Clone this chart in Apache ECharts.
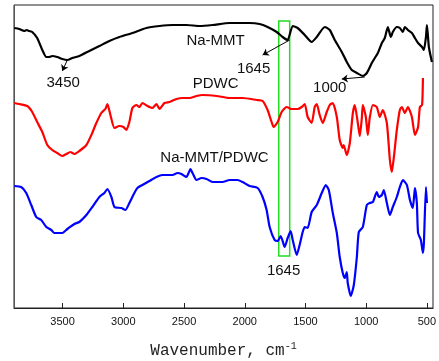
<!DOCTYPE html>
<html><head><meta charset="utf-8">
<script src="https://cdn.jsdelivr.net/npm/echarts@6/dist/echarts.min.js"></script>
<style>html,body{margin:0;padding:0;background:#fff}#c{width:439px;height:361px}</style>
</head><body><div id="c"></div>
<script>
// wavenumber (cm-1), transmittance (a.u.)
const naMMT = [[3898,280],[3857,279],[3816,277],[3795,278],[3775,277],[3750,276],[3709,270],[3667,258],[3634,251],[3610,251],[3585,252],[3544,251],[3502,249],[3461,248],[3420,250],[3362,252],[3280,257],[3197,262],[3115,267],[3032,271],[2925,275],[2810,280],[2702,282],[2595,283],[2480,283],[2372,282],[2265,283],[2125,285],[1960,285],[1878,284],[1812,281],[1737,276],[1688,271],[1647,268],[1605,282],[1564,280],[1506,273],[1449,266],[1407,271],[1341,281],[1300,278],[1259,268],[1201,256],[1160,246],[1119,238],[1077,235],[1028,232],[995,235],[954,245],[929,250],[904,255],[871,265],[847,270],[830,278],[822,281],[797,271],[781,276],[748,281],[723,280],[698,276],[682,281],[657,278],[624,275],[599,270],[573,265],[540,261],[525,258],[508,271],[500,283],[484,261],[459,246]];
const pdwc = [[3898,205],[3857,204],[3791,202],[3750,196],[3709,186],[3667,176],[3626,163],[3585,158],[3544,155],[3502,152],[3469,154],[3436,156],[3403,154],[3362,157],[3304,163],[3263,173],[3222,185],[3181,195],[3148,199],[3131,204],[3106,193],[3073,180],[3032,182],[2999,181],[2975,178],[2950,186],[2925,200],[2892,203],[2867,201],[2843,205],[2801,202],[2760,200],[2727,204],[2702,199],[2661,205],[2620,206],[2562,209],[2513,210],[2455,210],[2397,212],[2348,213],[2232,212],[2125,210],[2018,210],[1902,208],[1853,207],[1812,198],[1779,186],[1762,181],[1729,186],[1696,196],[1655,201],[1614,199],[1564,199],[1531,201],[1506,204],[1482,191],[1449,185],[1424,201],[1407,204],[1383,193],[1358,185],[1325,196],[1300,203],[1275,205],[1242,191],[1218,168],[1193,160],[1185,163],[1160,153],[1135,165],[1110,195],[1094,203],[1069,185],[1053,172],[1036,190],[1028,203],[1003,191],[987,173],[970,191],[945,203],[913,201],[888,191],[863,198],[830,185],[805,148],[789,136],[772,151],[748,178],[723,198],[706,201],[682,195],[657,201],[624,191],[599,173],[573,181],[558,201],[540,203],[533,230]];
const naMMTpdwc = [[3898,122],[3841,121],[3799,115],[3758,103],[3717,91],[3676,88],[3634,81],[3593,78],[3568,75],[3535,75],[3502,75],[3461,79],[3403,84],[3362,86],[3304,93],[3255,101],[3197,111],[3156,115],[3131,119],[3098,111],[3073,101],[3016,100],[2983,98],[2950,105],[2909,115],[2884,120],[2843,123],[2785,127],[2727,131],[2678,133],[2595,133],[2554,135],[2521,134],[2480,131],[2447,139],[2430,135],[2397,128],[2356,130],[2315,129],[2265,126],[2183,126],[2125,128],[2059,128],[2018,126],[1960,122],[1894,120],[1853,111],[1820,98],[1795,81],[1754,68],[1729,67],[1704,72],[1671,61],[1647,70],[1622,77],[1605,68],[1572,53],[1548,63],[1523,76],[1506,81],[1482,80],[1449,96],[1407,103],[1366,115],[1333,123],[1308,118],[1275,95],[1242,75],[1218,51],[1193,35],[1176,30],[1160,36],[1152,25],[1127,12],[1102,23],[1077,51],[1061,76],[1028,81],[995,103],[970,105],[945,106],[913,116],[896,111],[871,113],[855,118],[830,105],[805,93],[781,101],[748,111],[723,121],[698,128],[665,123],[640,108],[616,100],[599,120],[583,105],[573,75],[550,68],[533,55],[525,65],[508,121],[500,105]];
const xTicks = [500,1000,1500,2000,2500,3000,3500];
const seriesNames = ['Na-MMT','PDWC','Na-MMT/PDWC'];
const peakLabels = [
  {text:'3450', at:[3495,225], from:[3461,248], to:[3502,237]},
  {text:'1645', at:[1927,239], from:[1630,268], to:[1853,253]},
  {text:'1000', at:[1300,220], from:[1012,231], to:[1201,229]}
];
const nameLabels = [[2240,267],[2240,224],[2249,150]];
const bottomLabel = {text:'1645', at:[1680,37]};
const box = [[1720,287],[1630,52]];

const lblFont = {fontFamily:'Liberation Sans, Arial', fontSize:15, color:'#111'};
function textPoint(t, c){ return {coord:c, value:t, symbol:'rect', symbolSize:1, itemStyle:{color:'rgba(0,0,0,0)'}, label:Object.assign({show:true, position:'inside', formatter:t}, lblFont)}; }

const chart = echarts.init(document.getElementById('c'));
chart.setOption({
  animation:false,
  grid:{left:14, right:6, top:5, bottom:53, show:true, borderColor:'#222', borderWidth:1, outerBoundsMode:'none', containLabel:false},
  xAxis:{type:'value', inverse:true, min:450, max:3900,
    axisLine:{show:true, lineStyle:{color:'#222', width:1}},
    axisTick:{show:true, inside:true, length:5, customValues:xTicks, lineStyle:{color:'#222'}},
    axisLabel:{customValues:xTicks, formatter:v=>String(v), color:'#111', fontFamily:'Liberation Sans, Arial', fontSize:11, margin:8},
    splitLine:{show:false},
    name:'{a|Wavenumber, cm}{b|-1}', nameLocation:'middle', nameGap:33,
    nameTextStyle:{rich:{a:{fontFamily:'Liberation Mono', fontSize:16, color:'#222', lineHeight:20}, b:{fontFamily:'Liberation Mono', fontSize:10, color:'#222', verticalAlign:'top', lineHeight:20}}}
  },
  yAxis:{type:'value', min:0, max:303, axisLine:{show:true, lineStyle:{color:'#555'}}, axisTick:{show:false}, axisLabel:{show:false}, splitLine:{show:false}},
  series:[
    {name:seriesNames[0], type:'line', data:naMMT, showSymbol:false, smooth:0.2, lineStyle:{color:'#000', width:2.2}, itemStyle:{color:'#000'},
      markPoint:{data:[textPoint(seriesNames[0], nameLabels[0])].concat(peakLabels.map(p=>textPoint(p.text,p.at)))},
      markLine:{silent:true, symbol:['none','arrow'], symbolSize:6, label:{show:false}, lineStyle:{color:'#000', width:1, type:'solid'},
        data:peakLabels.map(p=>[{coord:p.from},{coord:p.to}])}
    },
    {name:seriesNames[1], type:'line', data:pdwc, showSymbol:false, smooth:0.2, lineStyle:{color:'#ff0000', width:2.2}, itemStyle:{color:'#ff0000'},
      markPoint:{data:[textPoint(seriesNames[1], nameLabels[1])]}
    },
    {name:seriesNames[2], type:'line', data:naMMTpdwc, showSymbol:false, smooth:0.2, lineStyle:{color:'#0000ff', width:2.2}, itemStyle:{color:'#0000ff'},
      markPoint:{data:[textPoint(seriesNames[2], nameLabels[2]), textPoint(bottomLabel.text, bottomLabel.at)]},
      markArea:{silent:true, itemStyle:{color:'rgba(0,0,0,0)', borderColor:'#22dd22', borderWidth:1.5}, data:[[{coord:box[0]},{coord:box[1]}]]}
    }
  ]
});
</script></body></html>
